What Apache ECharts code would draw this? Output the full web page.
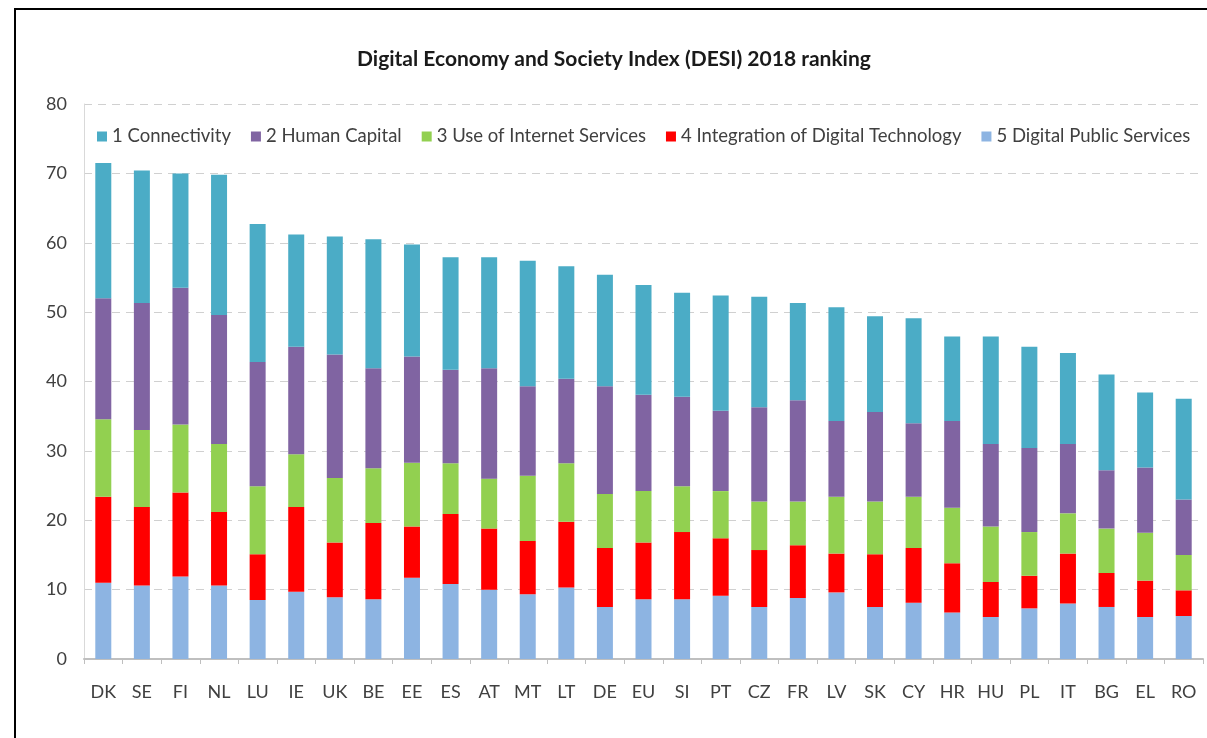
<!DOCTYPE html>
<html>
<head>
<meta charset="utf-8">
<script src="https://cdn.jsdelivr.net/npm/echarts@6/dist/echarts.min.js"></script>
<style>
  html, body { margin: 0; padding: 0; background: #fff; }
  #chart { width: 1207px; height: 738px; }
</style>
</head>
<body>
<div id="chart"></div>
<script>
// country codes, DESI ranking order
const countries = ['DK', 'SE', 'FI', 'NL', 'LU', 'IE', 'UK', 'BE', 'EE', 'ES', 'AT', 'MT', 'LT', 'DE', 'EU',
  'SI', 'PT', 'CZ', 'FR', 'LV', 'SK', 'CY', 'HR', 'HU', 'PL', 'IT', 'BG', 'EL', 'RO'];

// dimension scores
const publicServices = [11.0, 10.6, 11.9, 10.6, 8.5, 9.7, 8.9, 8.6, 11.7, 10.8, 10.0, 9.35, 10.3, 7.5, 8.6,
  8.6, 9.1, 7.5, 8.8, 9.6, 7.5, 8.1, 6.7, 6.05, 7.3, 8.0, 7.5, 6.05, 6.2];
const digitalTech = [12.4, 11.3, 12.1, 10.6, 6.6, 12.2, 7.9, 11.0, 7.4, 10.1, 8.8, 7.65, 9.5, 8.5, 8.2,
  9.7, 8.3, 8.2, 7.6, 5.6, 7.6, 7.9, 7.1, 5.05, 4.7, 7.2, 4.9, 5.25, 3.7];
const internetUse = [11.15, 11.1, 9.8, 9.8, 9.8, 7.6, 9.3, 7.9, 9.2, 7.3, 7.2, 9.4, 8.4, 7.8, 7.4,
  6.6, 6.8, 7.0, 6.3, 8.2, 7.6, 7.4, 8.0, 8.0, 6.3, 5.8, 6.4, 6.9, 5.1];
const humanCapital = [17.45, 18.3, 19.7, 18.6, 17.9, 15.5, 17.8, 14.4, 15.3, 13.5, 15.9, 12.9, 12.2, 15.5, 13.9,
  12.9, 11.6, 13.6, 14.6, 10.9, 12.9, 10.6, 12.5, 11.9, 12.1, 10.0, 8.4, 9.4, 8.0];
const connectivity = [19.5, 19.1, 16.5, 20.2, 19.9, 16.2, 17.0, 18.6, 16.15, 16.2, 16.0, 18.1, 16.2, 16.1, 15.8,
  15.0, 16.6, 15.9, 14.0, 16.4, 13.8, 15.1, 12.2, 15.5, 14.6, 13.1, 13.8, 10.8, 14.5];

const legendNames = ['1 Connectivity', '2 Human Capital', '3 Use of Internet Services',
  '4 Integration of Digital Technology', '5 Digital Public Services'];

const chart = echarts.init(document.getElementById('chart'));
const font = 'Lato, "Open Sans", sans-serif';

// stacked from the bottom up
const stackSeries = [
  { name: legendNames[4], data: publicServices, color: '#8db4e2' },
  { name: legendNames[3], data: digitalTech, color: '#ff0000' },
  { name: legendNames[2], data: internetUse, color: '#92d050' },
  { name: legendNames[1], data: humanCapital, color: '#8064a2' },
  { name: legendNames[0], data: connectivity, color: '#4bacc6' }
].map(s => ({
  name: s.name,
  type: 'bar',
  stack: 'desi',
  barWidth: 16,
  data: s.data,
  itemStyle: { color: s.color },
  emphasis: { disabled: true }
}));

chart.setOption({
  animation: false,
  title: {
    text: 'Digital Economy and Society Index (DESI) 2018 ranking',
    left: 352,
    top: 44,
    textStyle: { fontFamily: font, fontSize: 21, fontWeight: 'bold', color: '#1a1a1a' }
  },
  legend: {
    data: legendNames,
    left: 92,
    top: 122,
    itemWidth: 10,
    itemHeight: 10,
    itemGap: 20,
    icon: 'rect',
    textStyle: { fontFamily: font, fontSize: 18.5, color: '#404040' }
  },
  grid: { left: 84, right: 4, top: 104, bottom: 79 },
  xAxis: {
    type: 'category',
    data: countries,
    axisLine: { lineStyle: { color: '#bfbfbf', width: 2 } },
    axisTick: { show: true, length: 5, lineStyle: { color: '#bfbfbf' } },
    axisLabel: { fontFamily: font, fontSize: 18, color: '#404040', margin: 24 }
  },
  yAxis: {
    type: 'value',
    min: 0,
    max: 80,
    interval: 10,
    axisLine: { show: true, lineStyle: { color: '#d9d9d9' } },
    axisTick: { show: false },
    axisLabel: { fontFamily: font, fontSize: 18, color: '#404040', margin: 17 },
    splitLine: { lineStyle: { color: '#d0d0d0', type: [8, 6] } }
  },
  graphic: [{
    type: 'rect',
    silent: true,
    shape: { x: 15, y: 9, width: 1400, height: 1000 },
    style: { fill: 'none', stroke: '#000', lineWidth: 2 }
  }],
  series: stackSeries
});
</script>
</body>
</html>
